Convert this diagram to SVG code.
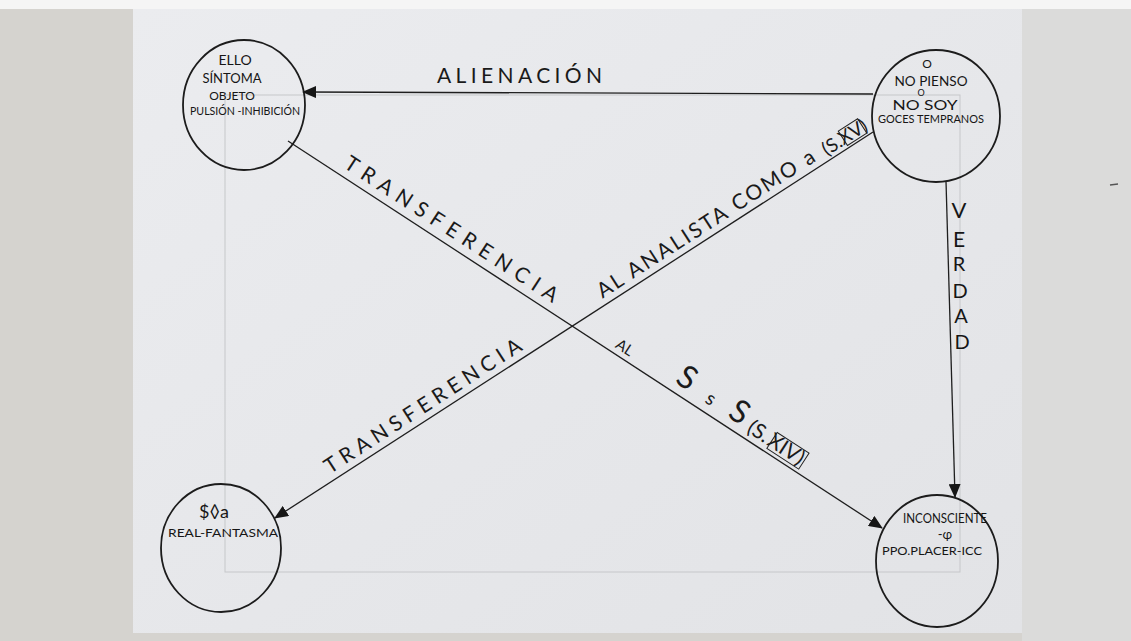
<svg xmlns="http://www.w3.org/2000/svg" width="1131" height="641" viewBox="0 0 1131 641">
<defs>
<marker id="ah" markerUnits="userSpaceOnUse" markerWidth="14" markerHeight="12" refX="13" refY="6" orient="auto">
<path d="M0,0 L14,6 L0,12 z" fill="#161616"/>
</marker>
<linearGradient id="paper" x1="0" y1="0" x2="1" y2="1">
<stop offset="0" stop-color="#ebecef"/>
<stop offset="1" stop-color="#e2e3e6"/>
</linearGradient>
</defs>
<style>
.node ellipse{fill:none;stroke:#1c1c1c;stroke-width:1.8}
.t{font-family:Lato,"Open Sans","Liberation Sans",sans-serif;font-weight:400;fill:#161616;text-anchor:middle}
.s{font-family:Lato,"Open Sans","Liberation Sans",sans-serif;font-weight:400;fill:#1a1a1a}
.c{stroke:#1e1e1e;stroke-width:1.3;fill:none}
.box{fill:none;stroke:#222;stroke-width:1}
</style>
<rect x="0" y="0" width="1131" height="641" fill="#d5d3cf"/>
<rect x="0" y="0" width="1131" height="9" fill="#f5f5f5"/>
<rect x="1022" y="9" width="109" height="632" fill="#dbdbda"/>
<rect x="133" y="9" width="889" height="624" fill="url(#paper)"/>
<rect x="225" y="95" width="735" height="477" fill="none" stroke="#c6c7ca" stroke-width="1"/>
<line x1="1110" y1="185" x2="1118" y2="184" stroke="#555" stroke-width="1.5"/>

<g id="connectors">
<line class="c" x1="873" y1="94" x2="303" y2="92" stroke-width="1.8" marker-end="url(#ah)"/>
<line class="c" x1="946" y1="181" x2="955" y2="497" marker-end="url(#ah)"/>
<line class="c" x1="288" y1="141" x2="882" y2="528" marker-end="url(#ah)"/>
<line class="c" x1="873" y1="132" x2="275" y2="518" marker-end="url(#ah)"/>
</g>

<g id="labels">
<text class="s" x="437" y="83" font-size="21" textLength="165" lengthAdjust="spacing">ALIENACIÓN</text>
<text class="t" x="959" y="218" font-size="22">V</text>
<text class="t" x="959" y="247" font-size="21">E</text>
<text class="t" x="959" y="271" font-size="20">R</text>
<text class="t" x="960" y="298" font-size="20">D</text>
<text class="t" x="961" y="323" font-size="20">A</text>
<text class="t" x="962" y="349" font-size="20">D</text>
<g transform="translate(288,141) rotate(33)">
<text class="s" x="60" y="-8" font-size="21" textLength="250" lengthAdjust="spacing">TRANSFERENCIA</text>
<text class="s" x="386" y="-5" font-size="15">AL</text>
<text class="s" x="455" y="-8" font-size="32" textLength="80" lengthAdjust="spacing">S<tspan font-size="19">s</tspan>S</text>
<text class="s" x="542" y="-6" font-size="21">(S.<tspan dx="2">XIV</tspan>)</text>
<rect class="box" x="569" y="-22" width="38" height="19"/>
</g>
<g transform="translate(275,518) rotate(-32.8)">
<text class="s" x="70" y="-7" font-size="21" textLength="230" lengthAdjust="spacing">TRANSFERENCIA</text>
<text class="s" x="394" y="-7" font-size="21" textLength="255" lengthAdjust="spacing">AL ANALISTA COMO a</text>
<text class="s" x="660" y="-5" font-size="19" textLength="50" lengthAdjust="spacing">(S.XV)</text>
<rect class="box" x="683" y="-20" width="23" height="17"/>
</g>
</g>

<g id="node-ello" class="node">
<ellipse cx="244" cy="105" rx="61" ry="65"/>
<text class="t" x="235" y="65" font-size="14">ELLO</text>
<text class="t" x="232" y="83" font-size="13">SÍNTOMA</text>
<text class="t" x="232" y="100" font-size="12">OBJETO</text>
<text class="t" x="245" y="115" font-size="11" textLength="110" lengthAdjust="spacingAndGlyphs">PULSIÓN -INHIBICIÓN</text>
</g>

<g id="node-nopienso" class="node">
<ellipse cx="936" cy="116" rx="64" ry="66"/>
<text class="t" x="927" y="68" font-size="12">O</text>
<text class="t" x="931" y="86" font-size="13" textLength="73" lengthAdjust="spacingAndGlyphs">NO PIENSO</text>
<text class="t" x="921" y="96" font-size="9">O</text>
<text class="t" x="925" y="110" font-size="14" textLength="65" lengthAdjust="spacingAndGlyphs">NO SOY</text>
<text class="t" x="931" y="123" font-size="12" textLength="106" lengthAdjust="spacingAndGlyphs">GOCES TEMPRANOS</text>
</g>

<g id="node-fantasma" class="node">
<ellipse cx="221" cy="548" rx="60" ry="64"/>
<text class="t" x="214" y="518" font-size="18">$◊a</text>
<text class="t" x="223" y="537" font-size="11" textLength="110" lengthAdjust="spacingAndGlyphs">REAL-FANTASMA</text>
</g>

<g id="node-inconsciente" class="node">
<ellipse cx="937" cy="561" rx="61" ry="66"/>
<text class="t" x="945" y="523" font-size="13" textLength="84" lengthAdjust="spacingAndGlyphs">INCONSCIENTE</text>
<text class="t" x="945" y="539" font-size="13">-φ</text>
<text class="t" x="932" y="555" font-size="12" textLength="100" lengthAdjust="spacingAndGlyphs">PPO.PLACER-ICC</text>
</g>
</svg>
